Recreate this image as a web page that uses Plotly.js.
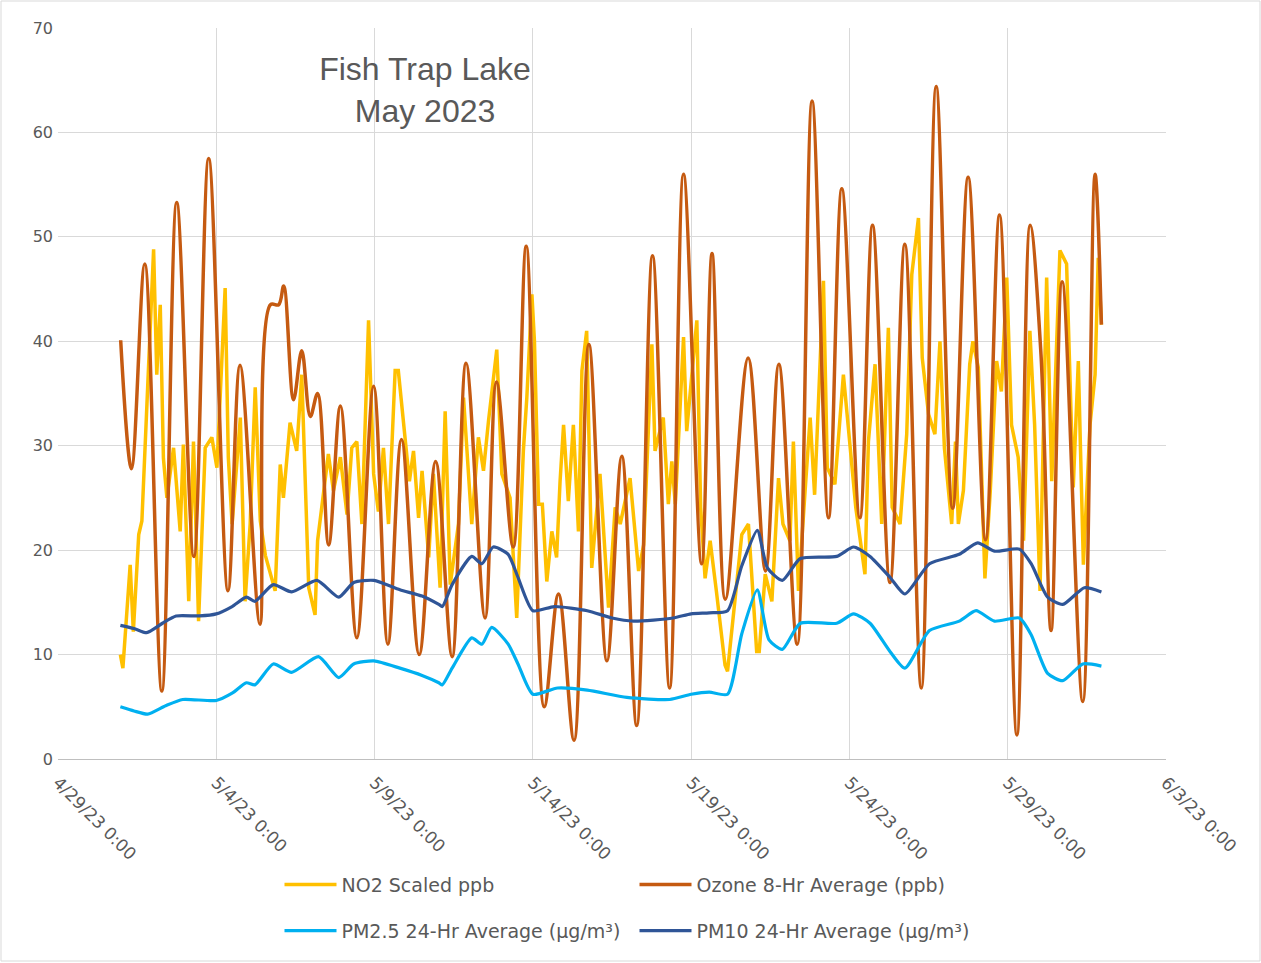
<!DOCTYPE html>
<html>
<head>
<meta charset="utf-8">
<script src="https://cdn.plot.ly/plotly-3.0.1.min.js"></script>
<style>html,body{margin:0;padding:0;background:#fff;}#chart{width:1261px;height:963px;}</style>
</head>
<body>
<div id="chart"></div>
<script>
// Time values are days since 2023-04-29 00:00
var tickDays = [0, 5, 10, 15, 20, 25, 30, 35];
var tickLabels = ["4/29/23 0:00", "5/4/23 0:00", "5/9/23 0:00", "5/14/23 0:00", "5/19/23 0:00", "5/24/23 0:00", "5/29/23 0:00", "6/3/23 0:00"];

var no2Days = [1.97,2.05,2.28,2.38,2.55,2.65,2.81,3.02,3.12,3.23,3.33,3.44,3.65,3.86,3.96,4.13,4.28,4.44,4.65,4.86,5.02,5.28,5.38,5.5,5.76,5.91,6.07,6.23,6.39,6.55,6.86,7.02,7.12,7.33,7.54,7.7,7.92,8.12,8.2,8.39,8.54,8.7,8.92,9.13,9.28,9.44,9.6,9.81,9.97,10.12,10.28,10.44,10.65,10.75,10.97,11.1,11.23,11.39,11.5,11.71,11.86,12.07,12.23,12.39,12.65,12.81,13.07,13.28,13.44,13.6,13.86,14.02,14.28,14.49,14.7,14.81,14.97,15.05,15.18,15.3,15.44,15.6,15.75,15.86,15.97,16.12,16.28,16.44,16.55,16.7,16.86,17.12,17.39,17.6,17.76,18.07,18.34,18.5,18.76,18.86,19.12,19.28,19.39,19.5,19.76,19.86,20.18,20.3,20.44,20.6,20.8,21.07,21.15,21.35,21.6,21.81,22.07,22.15,22.34,22.55,22.76,22.9,23.12,23.23,23.39,23.6,23.76,23.9,24.18,24.3,24.54,24.81,25.02,25.2,25.49,25.6,25.81,26.02,26.23,26.35,26.6,26.81,26.97,27.18,27.3,27.5,27.7,27.86,28.0,28.23,28.35,28.44,28.6,28.8,28.9,29.07,29.28,29.45,29.65,29.8,29.97,30.12,30.33,30.5,30.7,30.85,31.02,31.23,31.39,31.65,31.86,32.07,32.23,32.39,32.6,32.76,32.86,32.96];
var no2Values = [10.0,8.7,18.6,12.2,21.5,22.8,34.0,48.8,36.8,43.5,28.8,25.0,29.8,21.8,30.1,15.1,30.4,13.2,29.8,30.8,27.9,45.1,28.9,22.5,32.7,15.1,22.5,35.6,22.8,19.5,16.1,28.2,25.0,32.2,29.5,36.8,16.4,13.8,20.9,25.7,29.2,25.7,28.9,23.4,29.8,30.4,22.5,42.0,27.3,23.7,29.8,22.5,37.2,37.2,30.4,26.6,29.5,23.1,27.6,19.3,27.3,16.4,33.3,16.7,22.5,34.6,22.5,30.8,27.6,32.4,39.2,27.3,25.0,13.5,29.5,34.6,44.5,40.0,24.4,24.4,17.0,21.8,19.3,26.6,32.0,24.7,32.0,21.8,37.2,41.0,18.3,27.3,14.5,24.1,22.5,26.9,18.0,20.5,39.7,29.5,32.7,24.4,28.5,24.4,40.4,31.4,42.0,24.1,17.3,20.9,16.0,9.0,8.4,14.0,21.5,22.5,10.3,10.3,17.7,15.1,26.9,22.5,20.9,30.4,16.1,25.7,32.7,25.3,45.8,27.9,26.3,36.8,29.8,24.1,17.7,30.4,37.8,22.5,41.3,24.1,22.5,31.1,46.4,51.8,38.4,33.0,31.1,40.0,29.8,22.5,30.4,22.5,25.7,37.8,40.0,37.5,17.3,25.7,38.1,35.2,46.1,32.0,28.9,20.9,41.0,32.0,16.1,46.1,26.6,48.7,47.4,26.0,38.1,18.6,32.0,36.8,48.0,41.6];

var ozoneDays = [1.98,2.32,2.74,3.28,3.75,4.29,4.76,5.37,5.75,6.38,6.71,6.97,7.13,7.44,7.7,7.97,8.2,8.55,8.92,9.44,9.97,10.42,10.85,11.41,11.93,12.45,12.89,13.49,13.85,14.38,14.79,15.36,15.81,16.3,16.77,17.34,17.81,18.28,18.78,19.32,19.76,20.33,20.66,21.08,21.8,22.35,22.77,23.35,23.82,24.34,24.76,25.33,25.73,26.28,26.75,27.27,27.74,28.26,28.75,29.3,29.74,30.29,30.71,31.05,31.37,31.72,32.37,32.76,32.96];
var ozoneValues = [40.1,27.8,47.4,6.5,53.3,19.4,57.5,16.1,37.7,12.9,43.5,43.5,45.3,34.4,39.1,32.8,35.0,20.5,33.8,11.6,35.7,11.0,30.6,10.0,28.5,9.8,37.9,13.5,36.1,20.3,49.1,5.0,15.8,1.8,39.7,9.4,29.0,3.2,48.2,6.8,56.0,18.7,48.4,15.3,38.4,18.0,37.8,11.0,63.0,23.1,54.6,23.1,51.1,16.9,49.3,6.8,64.4,24.0,55.7,21.0,52.1,2.3,51.1,38.8,12.3,45.7,5.5,56.0,41.6];

var pm25Days = [1.97,2.4,2.83,3.4,3.94,5.0,5.5,5.95,6.22,6.8,7.38,8.23,8.87,9.34,9.98,10.8,11.5,12.03,12.14,12.45,13.07,13.39,13.7,14.22,14.53,15.0,15.78,16.72,17.97,19.32,20.0,20.57,21.15,21.6,22.09,22.46,22.88,23.45,24.6,25.13,25.65,26.28,26.75,27.53,28.47,29.0,29.58,30.37,30.74,31.26,31.74,32.37,32.96];
var pm25Values = [5.0,4.6,4.3,5.1,5.7,5.6,6.3,7.3,7.1,9.1,8.3,9.8,7.8,9.1,9.4,8.7,8.0,7.3,7.1,8.7,11.6,11.0,12.6,11.0,9.1,6.2,6.8,6.6,5.9,5.7,6.2,6.4,6.2,12.0,16.2,11.4,10.5,13.0,13.0,13.9,13.0,10.3,8.7,12.3,13.2,14.2,13.2,13.5,11.9,8.2,7.5,9.1,8.9];

var pm10Days = [1.97,2.4,2.8,3.3,3.73,4.47,5.0,5.5,5.95,6.22,6.8,7.38,8.18,8.87,9.34,9.98,10.8,11.5,12.03,12.14,12.45,13.07,13.39,13.75,14.22,14.53,15.0,15.68,16.72,17.5,18.18,19.43,20.0,20.57,21.15,21.6,22.09,22.41,22.88,23.45,24.6,25.13,25.65,26.28,26.75,27.53,28.47,29.05,29.58,30.37,30.74,31.26,31.74,32.42,32.96];
var pm10Values = [12.8,12.5,12.1,13.0,13.7,13.7,13.9,14.6,15.5,15.1,16.7,16.0,17.1,15.5,16.9,17.1,16.2,15.6,14.8,14.6,16.7,19.4,18.7,20.3,19.6,17.4,14.2,14.6,14.2,13.5,13.2,13.5,13.9,14.0,14.2,18.5,21.9,18.3,17.1,19.2,19.4,20.3,19.4,17.4,15.8,18.7,19.6,20.7,19.9,20.1,18.7,15.5,14.8,16.4,16.0];

var seriesNames = ["NO2 Scaled ppb", "Ozone 8-Hr Average (ppb)", "PM2.5 24-Hr Average (µg/m³)", "PM10 24-Hr Average (µg/m³)"];
var titleLines = ["Fish Trap Lake", "May 2023"];

function toDate(d) {
  var ms = Date.UTC(2023, 3, 29) + Math.round(d * 24 * 60) * 60000;
  return new Date(ms).toISOString().slice(0, 19).replace('T', ' ');
}
function toDates(arr) { return arr.map(toDate); }

var FONT = "Liberation Sans, Arial, sans-serif";
var WFONT = "DejaVu Sans, Verdana, sans-serif";
var GREY = "#595959";

var traces = [
  {x: toDates(no2Days), y: no2Values, name: seriesNames[0], type: 'scatter', mode: 'lines',
   line: {color: '#FFC000', width: 3.5}, legend: 'legend'},
  {x: toDates(ozoneDays), y: ozoneValues, name: seriesNames[1], type: 'scatter', mode: 'lines',
   line: {color: '#C55A11', width: 3.5, shape: 'spline', smoothing: 1}, legend: 'legend'},
  {x: toDates(pm25Days), y: pm25Values, name: seriesNames[2], type: 'scatter', mode: 'lines',
   line: {color: '#00B0F0', width: 3.2, shape: 'spline', smoothing: 0.6}, legend: 'legend2'},
  {x: toDates(pm10Days), y: pm10Values, name: seriesNames[3], type: 'scatter', mode: 'lines',
   line: {color: '#2F5597', width: 3.2, shape: 'spline', smoothing: 0.6}, legend: 'legend2'}
];

var legendCommon = {orientation: 'h', x: (285 - 5.5 - 58) / 1108, xanchor: 'left', yanchor: 'middle',
  entrywidth: 288, entrywidthmode: 'pixels', itemwidth: 52,
  font: {family: WFONT, size: 19, color: GREY}, bgcolor: 'rgba(0,0,0,0)', traceorder: 'normal'};

var layout = {
  width: 1261, height: 963,
  paper_bgcolor: '#ffffff', plot_bgcolor: '#ffffff',
  font: {family: FONT, color: GREY},
  margin: {l: 58, r: 95, t: 28, b: 204, autoexpand: false},
  title: {text: titleLines.join('<br>'), x: 425 / 1261, xanchor: 'center', y: 1 - 80 / 963, yanchor: 'middle',
          font: {family: FONT, size: 32, color: GREY}},
  xaxis: {
    type: 'date',
    range: [toDate(tickDays[0]), toDate(tickDays[tickDays.length - 1])],
    tickmode: 'array', tickvals: toDates(tickDays), ticktext: tickLabels,
    tickangle: 45, tickfont: {family: WFONT, size: 17, color: GREY},
    showgrid: true, gridcolor: '#d9d9d9', gridwidth: 1,
    showline: true, linecolor: '#bfbfbf', linewidth: 1,
    ticks: '', zeroline: false, automargin: false, ticklabelstandoff: 6
  },
  yaxis: {
    range: [0, 70], dtick: 10, tick0: 0,
    tickfont: {family: WFONT, size: 16, color: GREY},
    showgrid: true, gridcolor: '#d9d9d9', gridwidth: 1,
    showline: false, zeroline: false, ticks: '', automargin: false, ticklabelstandoff: 4
  },
  legend: Object.assign({}, legendCommon, {y: -0.172}),
  legend2: Object.assign({}, legendCommon, {y: -0.235}),
  shapes: [{type: 'rect', xref: 'paper', yref: 'paper',
            x0: -57 / 1108, x1: (1261 - 59) / 1108, y0: -(963 - 759 - 2) / 731, y1: (759 - 1) / 731,
            line: {color: '#d9d9d9', width: 1}, fillcolor: 'rgba(0,0,0,0)', layer: 'below'}]
};

Plotly.newPlot('chart', traces, layout, {displayModeBar: false, staticPlot: true});
</script>
</body>
</html>
